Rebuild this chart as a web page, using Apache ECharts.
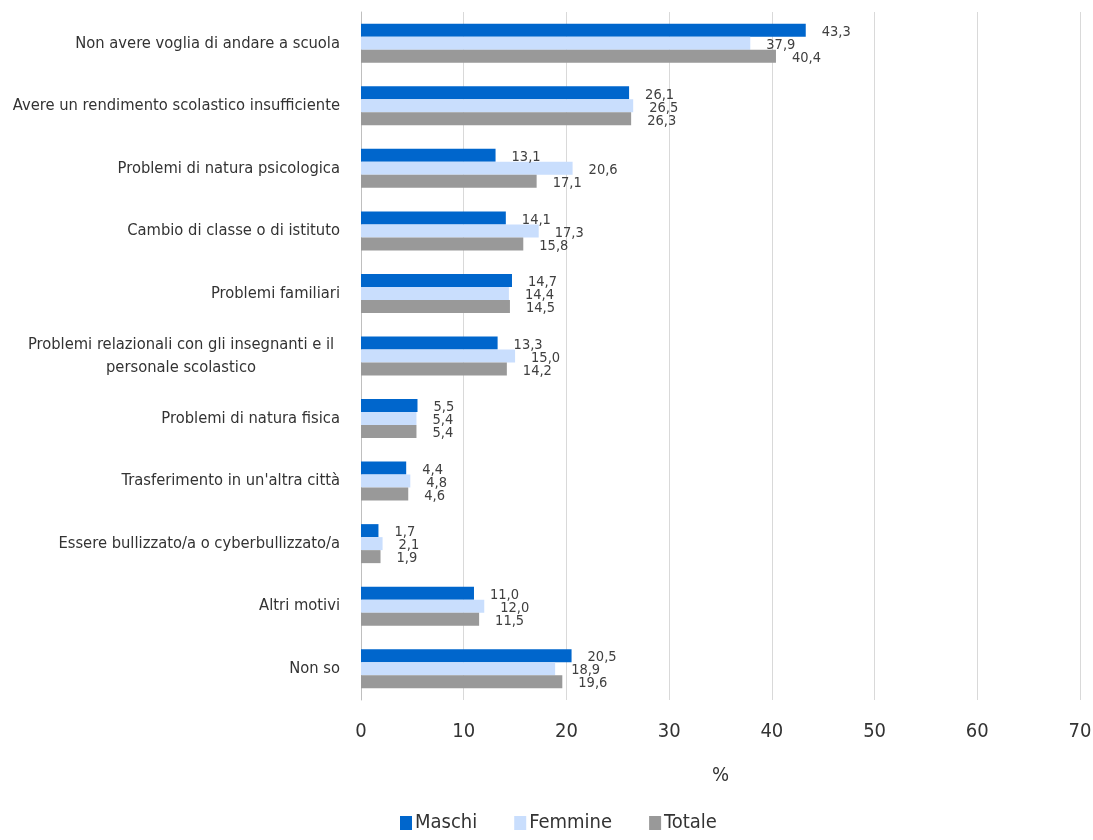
<!DOCTYPE html>
<html><head><meta charset="utf-8">
<script src="https://cdn.jsdelivr.net/npm/echarts@6/dist/echarts.min.js"></script>
<style>html,body{margin:0;padding:0;background:#fff}#c{width:1093px;height:840px}</style>
</head><body><div id="c"></div>
<script>
const categories = [
  "Non avere voglia di andare a scuola",
  "Avere un rendimento scolastico insufficiente",
  "Problemi di natura psicologica",
  "Cambio di classe o di istituto",
  "Problemi familiari",
  "Problemi relazionali con gli insegnanti e il\npersonale scolastico",
  "Problemi di natura fisica",
  "Trasferimento in un'altra città",
  "Essere bullizzato/a o cyberbullizzato/a",
  "Altri motivi",
  "Non so"
];
const maschi  = [43.3, 26.1, 13.1, 14.1, 14.7, 13.3, 5.5, 4.4, 1.7, 11.0, 20.5];
const femmine = [37.9, 26.5, 20.6, 17.3, 14.4, 15.0, 5.4, 4.8, 2.1, 12.0, 18.9];
const totale  = [40.4, 26.3, 17.1, 15.8, 14.5, 14.2, 5.4, 4.6, 1.9, 11.5, 19.6];
const xTicks = [0, 10, 20, 30, 40, 50, 60, 70];

const FONT = '"DejaVu Sans Condensed", "Liberation Sans Narrow", sans-serif';
const chart = echarts.init(document.getElementById('c'));
function mk(name, data, color) {
  return {
    name, type: 'bar', data, barWidth: 13, barGap: '0%',
    itemStyle: { color },
    label: {
      show: true, position: 'right', distance: 16, offset: [0, 2],
      fontFamily: FONT, fontSize: 14.5, color: '#404040',
      formatter: p => p.value.toFixed(1).replace('.', ',')
    }
  };
}
chart.setOption({
  animation: false,
  textStyle: { fontFamily: FONT },
  grid: { left: 361, right: 13, top: 12, bottom: 140, containLabel: false, outerBoundsMode: 'none' },
  xAxis: {
    type: 'value', min: xTicks[0], max: xTicks[xTicks.length - 1], interval: 10,
    name: '%', nameLocation: 'middle', nameGap: 66,
    nameTextStyle: { fontFamily: FONT, fontSize: 20, color: '#333' },
    axisLine: { show: false }, axisTick: { show: false },
    axisLabel: { fontFamily: FONT, fontSize: 20, color: '#333', margin: 22 },
    splitLine: { show: true, lineStyle: { color: '#d9d9d9', width: 1 } }
  },
  yAxis: {
    type: 'category', data: categories, inverse: true,
    axisLine: { show: true, lineStyle: { color: '#bfbfbf' } }, axisTick: { show: false },
    axisLabel: {
      fontFamily: FONT, fontSize: 16.4, color: '#333', margin: 21, lineHeight: 23,
      formatter: v => {
        if (v.indexOf('\n') >= 0) {
          return v.split('\n').map(s => '{c|' + s + '}').join('\n');
        }
        return v;
      },
      rich: { c: { width: 318, align: 'center', fontFamily: FONT, fontSize: 16.4, color: '#333', lineHeight: 23 } }
    }
  },
  legend: {
    bottom: 2, left: 395, itemWidth: 12, itemHeight: 14, itemGap: 37,
    icon: 'rect',
    textStyle: { fontFamily: FONT, fontSize: 20, color: '#333', padding: [0, 0, 0, -2] },
    data: ['Maschi', 'Femmine', 'Totale']
  },
  series: [mk('Maschi', maschi, '#0066CC'), mk('Femmine', femmine, '#C9DEFD'), mk('Totale', totale, '#999999')]
});
</script></body></html>
